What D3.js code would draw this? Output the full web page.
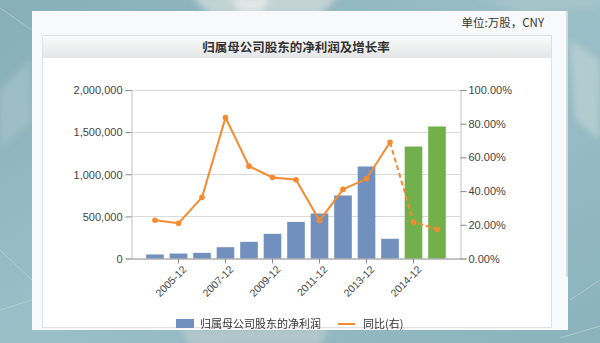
<!DOCTYPE html>
<html>
<head>
<meta charset="utf-8">
<script src="https://cdn.jsdelivr.net/npm/d3@7"></script>
<style>
  html, body { margin: 0; padding: 0; background: #8fb6bf; }
  svg { display: block; }
</style>
</head>
<body>
<svg id="chart" width="600" height="343"></svg>
<script>
// Net profit attributable to parent shareholders (万股/CNY) and YoY growth
const categories = ["2004-12","2005-12","2006-12","2007-12","2008-12","2009-12","2010-12",
                    "2011-12","2012-12","2013-12","2014-03","2014-12","2015-12"];
const netProfit = [48000, 59000, 67000, 134000, 198000, 293000, 435000,
                   534000, 748000, 1092000, 234000, 1329000, 1567000];
const forecast = [false,false,false,false,false,false,false,false,false,false,false,true,true];
const yoyGrowth = [22.7, 20.9, 36.3, 83.6, 54.8, 48.1, 46.7, 22.5, 41.0, 47.3, 69.0, 21.7, 17.4];
const leftTicks = [0, 500000, 1000000, 1500000, 2000000];
const rightTicks = [0, 20, 40, 60, 80, 100];
const tickLabelCats = ["2005-12","2007-12","2009-12","2011-12","2013-12","2014-12"];

const svg = d3.select("#chart");
const defs = svg.append("defs");

// ---- backdrop ----
const bg = defs.append("linearGradient").attr("id","bg").attr("x1",0).attr("y1",0).attr("x2",1).attr("y2",1);
bg.append("stop").attr("offset","0%").attr("stop-color","#86afba");
bg.append("stop").attr("offset","50%").attr("stop-color","#9bbfc7");
bg.append("stop").attr("offset","100%").attr("stop-color","#8ab3bd");
defs.append("filter").attr("id","soft").append("feGaussianBlur").attr("stdDeviation",3);
svg.append("rect").attr("width",600).attr("height",343).attr("fill","url(#bg)");
const deco = svg.append("g").attr("filter","url(#soft)");
deco.append("path").attr("d","M190,-5 L340,-5 L320,14 L210,14 Z").attr("fill","#c9d6d6").attr("opacity",0.9);
deco.append("path").attr("d","M230,-5 L270,-5 L262,14 L240,14 Z").attr("fill","#dfe6e4");
deco.append("path").attr("d","M470,-5 L600,-5 L600,8 L520,14 Z").attr("fill","#a6c4ca").attr("opacity",0.8);
deco.append("path").attr("d","M570,40 L600,60 L600,140 L575,120 Z").attr("fill","#bed1d4").attr("opacity",0.7);
deco.append("path").attr("d","M180,328 L330,328 L320,345 L190,345 Z").attr("fill","#b9cbcd").attr("opacity",0.8);
deco.append("path").attr("d","M0,90 L30,60 L32,120 L0,150 Z").attr("fill","#a9c4ca").attr("opacity",0.6);
svg.append("g").attr("stroke","#c3d7db").attr("stroke-width",1).attr("opacity",0.6)
  .selectAll("line").data([[0,8,32,30],[0,250,32,280],[0,310,32,300],[570,300,600,280],[560,338,600,326]])
  .join("line").attr("x1",d=>d[0]).attr("y1",d=>d[1]).attr("x2",d=>d[2]).attr("y2",d=>d[3]);

// ---- panel ----
svg.append("rect").attr("x",32).attr("y",11).attr("width",536).attr("height",319).attr("fill","#f7f9fa");
svg.append("line").attr("x1",567).attr("x2",567).attr("y1",11).attr("y2",277)
  .attr("stroke","#c9cfd3").attr("stroke-width",1.5);
svg.append("rect").attr("x",42.5).attr("y",35.5).attr("width",509).attr("height",292)
  .attr("fill","#ffffff").attr("stroke","#dde1e4");
const tg = defs.append("linearGradient").attr("id","titlebar").attr("x1",0).attr("y1",0).attr("x2",0).attr("y2",1);
tg.append("stop").attr("offset","0%").attr("stop-color","#fbfbfb");
tg.append("stop").attr("offset","100%").attr("stop-color","#e4e5e6");
svg.append("rect").attr("x",43).attr("y",36).attr("width",508).attr("height",22).attr("fill","url(#titlebar)");
svg.append("text").attr("x",296).attr("y",52).attr("text-anchor","middle")
  .attr("font-family","'Noto Sans CJK SC', sans-serif").attr("font-size",12.5).attr("font-weight","bold")
  .attr("fill","#333").text("归属母公司股东的净利润及增长率");
svg.append("text").attr("x",544).attr("y",27).attr("text-anchor","end")
  .attr("font-family","'Noto Sans CJK SC', sans-serif").attr("font-size",11.5)
  .attr("fill","#333").text("单位:万股，CNY");

// ---- scales ----
const plot = {left: 131.5, right: 460.5, top: 90, bottom: 258.5};
const x = d3.scaleBand().domain(categories).range([plot.left, plot.right])
  .paddingInner(0.25).paddingOuter(0.625);
const yL = d3.scaleLinear().domain([0, 2000000]).range([plot.bottom, plot.top]);
const yR = d3.scaleLinear().domain([0, 100]).range([plot.bottom, plot.top]);

const axisFont = "'Liberation Sans', Arial, sans-serif";

// gridlines
svg.append("g").selectAll("line").data(leftTicks.slice(1)).join("line")
  .attr("x1",plot.left).attr("x2",plot.right)
  .attr("y1",d=>Math.round(yL(d))+0.5).attr("y2",d=>Math.round(yL(d))+0.5)
  .attr("stroke","#d9d9d9");

// left axis
const fmtL = d3.format(",");
const gL = svg.append("g").attr("transform",`translate(${plot.left},0)`)
  .call(d3.axisLeft(yL).tickValues(leftTicks).tickFormat(fmtL).tickSize(6).tickPadding(3));
// right axis
const gR = svg.append("g").attr("transform",`translate(${plot.right},0)`)
  .call(d3.axisRight(yR).tickValues(rightTicks).tickFormat(d=>d3.format(".2f")(d)+"%").tickSize(6).tickPadding(2));
[gL, gR].forEach(g => {
  g.select(".domain").attr("stroke","#c0c0c0");
  g.selectAll(".tick line").attr("stroke","#888");
  g.selectAll("text").attr("font-family",axisFont).attr("font-size",11).attr("fill","#444");
});
gL.selectAll(".tick text").attr("dy","0.35em");

// bars
svg.append("g").selectAll("rect").data(categories).join("rect")
  .attr("x",d=>x(d)).attr("width",x.bandwidth())
  .attr("y",(d,i)=>yL(netProfit[i])).attr("height",(d,i)=>yL(0)-yL(netProfit[i]))
  .attr("fill",(d,i)=>forecast[i] ? "#72b04c" : "#7190be");

// x axis
const gX = svg.append("g").attr("transform",`translate(0,${plot.bottom})`)
  .call(d3.axisBottom(x).tickValues(tickLabelCats).tickSize(5).tickSizeOuter(0));
gX.select(".domain").attr("stroke","#888");
gX.selectAll(".tick line").attr("stroke","#888");
gX.selectAll("text").attr("font-family",axisFont).attr("font-size",10.5).attr("fill","#444")
  .attr("text-anchor","end").attr("dy","0").attr("transform","translate(3,6) rotate(-45)");

// growth line: solid for reported years, dashed into forecasts
const cx = d => x(d) + x.bandwidth()/2;
const line = d3.line().x(d=>cx(d.c)).y(d=>yR(d.v));
const pts = categories.map((c,i)=>({c, v: yoyGrowth[i], f: forecast[i]}));
const firstF = pts.findIndex(p=>p.f);
const orange = "#f58b2e";
svg.append("path").datum(pts.slice(0, firstF)).attr("d",line)
  .attr("fill","none").attr("stroke",orange).attr("stroke-width",2);
svg.append("path").datum(pts.slice(firstF-1)).attr("d",line)
  .attr("fill","none").attr("stroke",orange).attr("stroke-width",2).attr("stroke-dasharray","5,3");
svg.append("g").selectAll("circle").data(pts).join("circle")
  .attr("cx",d=>cx(d.c)).attr("cy",d=>yR(d.v)).attr("r",2.8).attr("fill",orange);

// legend
const lg = svg.append("g");
lg.append("rect").attr("x",176).attr("y",319).attr("width",18).attr("height",9).attr("fill","#7190be");
lg.append("text").attr("x",200).attr("y",328).attr("font-family","'Noto Sans CJK SC', sans-serif")
  .attr("font-size",11).attr("fill","#333").text("归属母公司股东的净利润");
lg.append("line").attr("x1",338).attr("x2",355).attr("y1",324).attr("y2",324)
  .attr("stroke",orange).attr("stroke-width",2);
lg.append("text").attr("x",363).attr("y",328).attr("font-family","'Noto Sans CJK SC', sans-serif")
  .attr("font-size",11).attr("fill","#333").text("同比(右)");
</script>
</body>
</html>
